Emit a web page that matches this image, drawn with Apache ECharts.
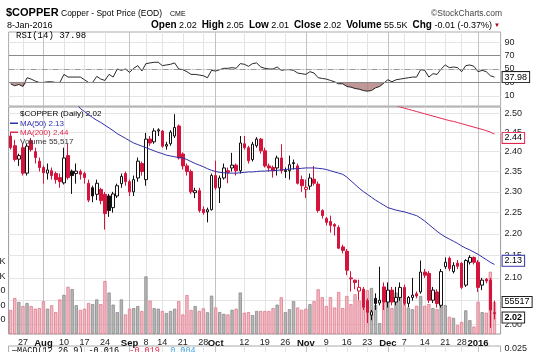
<!DOCTYPE html>
<html><head><meta charset="utf-8">
<script src="https://cdn.jsdelivr.net/npm/echarts@6/dist/echarts.min.js"></script>
<style>html,body{margin:0;padding:0;background:#fff}#c{width:550px;height:352px}</style>
</head><body><div id="c"></div>
<script>
// ---------- data ----------
const dates = ['2015-07-22','2015-07-23','2015-07-24','2015-07-27','2015-07-28','2015-07-29','2015-07-30','2015-07-31',
'2015-08-03','2015-08-04','2015-08-05','2015-08-06','2015-08-07','2015-08-10','2015-08-11','2015-08-12','2015-08-13','2015-08-14','2015-08-17','2015-08-18','2015-08-19','2015-08-20','2015-08-21','2015-08-24','2015-08-25','2015-08-26','2015-08-27','2015-08-28','2015-08-31',
'2015-09-01','2015-09-02','2015-09-03','2015-09-04','2015-09-08','2015-09-09','2015-09-10','2015-09-11','2015-09-14','2015-09-15','2015-09-16','2015-09-17','2015-09-18','2015-09-21','2015-09-22','2015-09-23','2015-09-24','2015-09-25','2015-09-28','2015-09-29','2015-09-30',
'2015-10-01','2015-10-02','2015-10-05','2015-10-06','2015-10-07','2015-10-08','2015-10-09','2015-10-12','2015-10-13','2015-10-14','2015-10-15','2015-10-16','2015-10-19','2015-10-20','2015-10-21','2015-10-22','2015-10-23','2015-10-26','2015-10-27','2015-10-28','2015-10-29','2015-10-30',
'2015-11-02','2015-11-03','2015-11-04','2015-11-05','2015-11-06','2015-11-09','2015-11-10','2015-11-11','2015-11-12','2015-11-13','2015-11-16','2015-11-17','2015-11-18','2015-11-19','2015-11-20','2015-11-23','2015-11-24','2015-11-25','2015-11-27','2015-11-30',
'2015-12-01','2015-12-02','2015-12-03','2015-12-04','2015-12-07','2015-12-08','2015-12-09','2015-12-10','2015-12-11','2015-12-14','2015-12-15','2015-12-16','2015-12-17','2015-12-18','2015-12-21','2015-12-22','2015-12-23','2015-12-24','2015-12-28','2015-12-29','2015-12-30','2015-12-31',
'2016-01-04','2016-01-05','2016-01-06','2016-01-07','2016-01-08'];

const open = [2.440,2.415,2.381,2.410,2.346,2.428,2.400,2.376,2.360,2.346,
2.352,2.345,2.335,2.322,2.390,2.351,2.345,2.350,2.345,2.321,
2.310,2.294,2.306,2.294,2.290,2.262,2.290,2.320,2.345,2.325,
2.300,2.334,2.370,2.330,2.432,2.425,2.453,2.453,2.414,2.420,
2.440,2.466,2.394,2.364,2.350,2.298,2.303,2.258,2.252,2.257,
2.340,2.310,2.334,2.352,2.359,2.366,2.352,2.420,2.410,2.380,
2.415,2.432,2.402,2.364,2.360,2.359,2.384,2.350,2.352,2.372,
2.364,2.330,2.306,2.314,2.331,2.319,2.255,2.236,2.229,2.222,
2.215,2.170,2.160,2.100,2.095,2.071,2.075,2.050,2.019,2.055,
2.045,2.080,2.047,2.073,2.047,2.057,2.079,2.044,2.057,2.065,
2.069,2.113,2.110,2.051,2.069,2.040,2.125,2.144,2.114,2.133,
2.133,2.084,2.135,2.146,2.135,2.084,2.097,2.095,2.024];
const high = [2.448,2.430,2.395,2.420,2.420,2.435,2.410,2.385,2.365,2.370,
2.360,2.350,2.345,2.410,2.420,2.355,2.370,2.355,2.350,2.330,
2.315,2.330,2.310,2.300,2.295,2.300,2.320,2.345,2.350,2.330,
2.340,2.385,2.375,2.448,2.440,2.460,2.460,2.455,2.425,2.455,
2.497,2.470,2.398,2.370,2.355,2.310,2.310,2.265,2.262,2.345,
2.377,2.340,2.370,2.360,2.397,2.370,2.440,2.440,2.415,2.425,
2.437,2.435,2.410,2.370,2.365,2.390,2.419,2.360,2.390,2.380,
2.370,2.340,2.330,2.345,2.364,2.325,2.258,2.240,2.243,2.225,
2.220,2.175,2.165,2.115,2.096,2.096,2.080,2.055,2.030,2.066,
2.125,2.090,2.090,2.080,2.080,2.090,2.085,2.060,2.100,2.070,
2.139,2.120,2.115,2.080,2.075,2.120,2.146,2.148,2.135,2.140,
2.135,2.142,2.151,2.148,2.140,2.100,2.100,2.100,2.050];
const low = [2.405,2.375,2.364,2.340,2.340,2.400,2.370,2.350,2.320,2.330,
2.330,2.320,2.310,2.318,2.330,2.295,2.320,2.330,2.320,2.275,
2.275,2.280,2.270,2.210,2.240,2.250,2.285,2.310,2.315,2.290,
2.290,2.325,2.340,2.315,2.415,2.420,2.440,2.410,2.405,2.415,
2.435,2.380,2.355,2.340,2.295,2.285,2.250,2.245,2.227,2.255,
2.305,2.273,2.330,2.321,2.350,2.340,2.345,2.405,2.370,2.375,
2.410,2.395,2.360,2.350,2.335,2.340,2.345,2.334,2.330,2.355,
2.318,2.300,2.285,2.305,2.315,2.250,2.236,2.220,2.203,2.196,
2.165,2.155,2.106,2.070,2.075,2.051,2.030,2.002,2.008,2.030,
2.040,2.030,2.035,2.040,2.040,2.050,2.040,2.036,2.050,2.055,
2.065,2.100,2.045,2.045,2.035,2.035,2.120,2.115,2.110,2.120,
2.075,2.080,2.130,2.130,2.069,2.073,2.088,1.992,2.010];
const close = [2.410,2.380,2.390,2.346,2.414,2.405,2.385,2.360,2.347,2.354,
2.340,2.330,2.325,2.384,2.335,2.340,2.351,2.343,2.335,2.280,
2.290,2.321,2.279,2.248,2.255,2.295,2.315,2.338,2.325,2.300,
2.330,2.376,2.350,2.432,2.422,2.453,2.456,2.414,2.418,2.450,
2.462,2.384,2.364,2.350,2.300,2.303,2.255,2.250,2.257,2.340,
2.310,2.334,2.359,2.348,2.366,2.352,2.422,2.410,2.377,2.419,
2.432,2.402,2.364,2.359,2.352,2.384,2.352,2.353,2.367,2.370,
2.321,2.315,2.311,2.334,2.321,2.255,2.243,2.227,2.220,2.218,
2.167,2.162,2.117,2.098,2.090,2.079,2.036,2.025,2.026,2.044,
2.051,2.047,2.073,2.047,2.057,2.079,2.044,2.057,2.062,2.060,
2.113,2.106,2.051,2.073,2.044,2.114,2.135,2.121,2.128,2.126,
2.079,2.139,2.146,2.135,2.079,2.095,2.093,2.030,2.0225];
const volume = [41700,62500,55600,48600,53800,48600,44000,45000,57000,44000,
49800,38000,60000,68000,82000,78000,50000,41700,44000,53800,
52000,60000,52000,92000,72000,51000,38000,60000,34000,44000,
45000,48600,40000,100000,58000,45000,44000,40000,36500,40000,
44000,57000,34000,67700,41700,48600,40000,44600,37700,66500,
46000,38000,35000,34000,42000,44000,72000,37000,38000,33000,
40000,40000,40000,40000,45000,51000,63700,38000,43000,57000,
46000,42000,44000,52000,57000,77600,64000,48600,64000,46000,
73000,45000,66000,52000,69000,58000,74000,76000,80000,50000,
19000,55000,58000,45000,72000,70000,52000,46000,43000,49000,
66000,49000,52000,45000,43000,58000,50000,30000,28000,15600,
21000,41000,24000,13000,56000,38000,37000,108000,55517];
const ma50 = [null,null,null,null,null,null,null,null,null,null,null,null,null,null,null,null,
2.525,2.512,2.504,2.496,2.488,2.481,2.475,2.468,2.461,2.454,
2.446,2.440,2.434,2.428,2.422,2.418,2.414,2.410,2.406,2.402,
2.398,2.395,2.391,2.389,2.387,2.385,2.384,2.380,2.375,2.370,
2.366,2.362,2.357,2.353,2.350,2.348,2.347,2.346,2.346,2.346,
2.347,2.348,2.349,2.349,2.350,2.351,2.351,2.352,2.352,2.353,
2.354,2.355,2.356,2.357,2.357,2.358,2.359,2.359,2.359,2.358,
2.357,2.355,2.352,2.349,2.346,2.343,2.336,2.327,2.318,2.309,
2.301,2.294,2.287,2.280,2.274,2.268,2.262,2.259,2.256,2.254,
2.252,2.249,2.246,2.243,2.237,2.230,2.222,2.214,2.206,2.199,
2.193,2.188,2.183,2.178,2.172,2.167,2.163,2.158,2.153,2.147,
2.141,2.135,2.130];
const ma200 = [null,null,null,null,null,null,null,null,null,null,
null,null,null,null,null,null,null,null,null,null,
null,null,null,null,null,null,null,null,null,null,
null,null,null,null,null,null,null,null,null,null,
null,null,null,null,null,null,null,null,null,null,
null,null,null,null,null,null,null,null,null,null,
null,null,null,null,null,null,null,null,null,null,
null,null,null,null,null,null,null,null,null,null,
null,null,null,null,null,null,null,null,null,null,
null,null,null,null,
2.520,2.516,2.513,2.510,2.507,2.504,2.501,2.498,2.495,2.492,
2.489,2.486,2.483,2.480,2.478,2.475,2.472,2.469,2.466,2.463,
2.460,2.457,2.454,2.450,2.4449];
const rsi = [28,25,27,24,37,35,32,30,30,31,
31,30,30,42,38,38,38,38,34,30,
30,39,35,33,42,38,50,48,50,45,
51,55,47,58,59,60,60,55,56,57,
59,50,49,46,42,42,41,40,37,48,
47,49,51,51,52,51,58,57,54,58,
59,53,51,50,50,53,48,49,49,48,
44,43,42,46,44,37,36,35,33,31,
28,28,24,23,21,20,18,17,18,22,
24,29,34,31,34,35,36,37,38,38,
49,48,38,43,42,50,56,52,53,52,
46,55,56,54,46,48,46,40,37.98];

const tickDates = ['2015-07-27','2015-08-03','2015-08-10','2015-08-17','2015-08-24','2015-09-01','2015-09-08','2015-09-14','2015-09-21','2015-09-28','2015-10-01','2015-10-12','2015-10-19','2015-10-26','2015-11-02','2015-11-09','2015-11-16','2015-11-23','2015-12-01','2015-12-07','2015-12-14','2015-12-21','2015-12-28','2016-01-04'];
const tickLabels = ['27','Aug','10','17','24','Sep','8','14','21','28','Oct','12','19','26','Nov','9','16','23','Dec','7','14','21','28','2016'];
const monthDates = ['2015-08-03','2015-09-01','2015-10-01','2015-11-02','2015-12-01','2016-01-04'];
const priceTicks = [2.00,2.05,2.10,2.15,2.20,2.25,2.30,2.35,2.40,2.45,2.50];
const rsiTicks = [10,30,50,70,90];
const volumeTicks = [25000,50000,75000,100000,125000];
const macdTicks = [0.025];

// ---------- build ----------
const FONT = '"Liberation Sans", Arial, sans-serif';
const MONO = '"Liberation Mono", "DejaVu Sans Mono", monospace';
const ln = Math.log;
const N = dates.length, L = N - 1;
const labelOf = {}; tickDates.forEach((d, i) => labelOf[d] = tickLabels[i]);
const monthSet = new Set(monthDates);
const isTick = (i, v) => Object.prototype.hasOwnProperty.call(labelOf, v);
const isMonth = (i, v) => monthSet.has(v);
const RED = '#d4143c', BLACK = '#111';

const candleData = dates.map((d, i) => {
  const prev = i > 0 ? close[i - 1] : open[i];
  const col = close[i] < prev ? RED : BLACK;
  const fill = close[i] > open[i] ? '#ffffff' : col;
  return { value: [ln(open[i]), ln(close[i]), ln(low[i]), ln(high[i])],
    itemStyle: { color: fill, color0: fill, borderColor: col, borderColor0: col } };
});
const volData = volume.map((v, i) => {
  const prev = i > 0 ? close[i - 1] : open[i];
  const down = close[i] < prev;
  return { value: v, itemStyle: down
    ? { color: 'rgba(238,170,180,0.8)', borderColor: '#e07a8e', borderWidth: 0.8 }
    : { color: 'rgba(165,165,165,0.8)', borderColor: '#8a8a8a', borderWidth: 0.8 } };
});
const rsiBase = rsi.map(v => Math.min(v, 30));
const rsiGap = rsi.map(v => 30 - Math.min(v, 30));

function tag(text, border, bold) {
  return { show: true, position: 'end', distance: 2, formatter: text,
    backgroundColor: '#fff', borderColor: border, borderWidth: 1, padding: [1, 2, 0, 2],
    color: '#000', fontSize: 9, fontFamily: FONT, fontWeight: bold ? 'bold' : 'normal' };
}
const hiddenLine = { color: 'rgba(0,0,0,0)', width: 0 };

const GL = 8.6, GW = 492;
function catAxis(grid, opts) {
  return Object.assign({
    type: 'category', gridIndex: grid, data: dates, boundaryGap: true, max: N,
    axisLine: { show: false }, axisTick: { show: false }, axisLabel: { show: false },
    splitLine: { show: true, interval: isTick, alignWithLabel: true, lineStyle: { color: '#e4e4e4', width: 1 } }
  }, opts || {});
}
function monthAxis(grid) {
  return catAxis(grid, { splitLine: { show: true, interval: isMonth, alignWithLabel: true, lineStyle: { color: '#c2c2c2', width: 1 } } });
}
const axLabel = { fontSize: 9, fontFamily: FONT, color: '#222', margin: 4 };

const option = {
  animation: false,
  backgroundColor: '#fff',
  grid: [
    { left: GL, top: 32, width: GW, height: 74, show: true, borderColor: '#aaa', borderWidth: 1, containLabel: false, outerBoundsMode: 'none' },
    { left: GL, top: 107, width: GW, height: 227, show: true, borderColor: '#999', borderWidth: 1, containLabel: false, outerBoundsMode: 'none' },
    { left: GL, top: 346, width: GW, height: 40, show: true, borderColor: '#aaa', borderWidth: 1, containLabel: false, outerBoundsMode: 'none' }
  ],
  xAxis: [
    catAxis(0), monthAxis(0),
    catAxis(1, { axisLabel: { show: true, interval: isTick, fontSize: 9, fontFamily: FONT, color: '#222', margin: 4,
      formatter: v => monthSet.has(v) ? '{b|' + labelOf[v] + '}' : labelOf[v],
      rich: { b: { fontWeight: 'bold', fontSize: 9.5, fontFamily: FONT, color: '#111' } } } }),
    monthAxis(1),
    catAxis(2), monthAxis(2)
  ],
  yAxis: [
    { type: 'value', gridIndex: 0, position: 'right', min: -5, max: 105,
      axisLine: { show: false }, axisTick: { show: false, customValues: rsiTicks },
      axisLabel: Object.assign({ customValues: rsiTicks }, axLabel),
      splitLine: { show: true, customValues: rsiTicks, lineStyle: { color: '#e4e4e4' } } },
    { type: 'value', gridIndex: 1, position: 'right', min: ln(1.979), max: ln(2.516),
      axisLine: { show: false }, axisTick: { show: false, customValues: priceTicks.map(ln) },
      axisLabel: Object.assign({ customValues: priceTicks.map(ln), formatter: v => Math.exp(v).toFixed(2) }, axLabel),
      splitLine: { show: true, customValues: priceTicks.map(ln), lineStyle: { color: '#e4e4e4' } } },
    { type: 'value', gridIndex: 1, position: 'left', min: 0, max: 394000,
      axisLine: { show: false }, axisTick: { show: false, customValues: volumeTicks },
      axisLabel: Object.assign({ customValues: volumeTicks,
        formatter: v => v >= 100000 ? (v / 1000) + 'K' : String(v) }, axLabel, { margin: 3 }),
      splitLine: { show: false } },
    { type: 'value', gridIndex: 2, position: 'right', min: -0.05, max: 0.03,
      axisLine: { show: false }, axisTick: { show: false, customValues: macdTicks },
      axisLabel: Object.assign({ customValues: macdTicks, formatter: v => v.toFixed(3) }, axLabel),
      splitLine: { show: false } }
  ],
  series: [
    { name: 'rsiBase', type: 'line', xAxisIndex: 0, yAxisIndex: 0, stack: 'rsifill', data: rsiBase,
      symbol: 'none', lineStyle: { width: 0 }, silent: true, z: 2 },
    { name: 'rsiFill', type: 'line', xAxisIndex: 0, yAxisIndex: 0, stack: 'rsifill', data: rsiGap,
      symbol: 'none', lineStyle: { width: 0 }, areaStyle: { color: 'rgba(150,80,80,0.85)' }, silent: true, z: 2 },
    { name: 'RSI(14)', type: 'line', xAxisIndex: 0, yAxisIndex: 0, data: rsi, symbol: 'none',
      lineStyle: { color: '#111', width: 0.9 }, z: 4,
      markLine: { silent: true, symbol: ['none', 'none'], animation: false,
        data: [
          { yAxis: 70, lineStyle: { color: '#8a8a8a', width: 1, type: 'solid' }, label: { show: false } },
          { yAxis: 30, lineStyle: { color: '#8a8a8a', width: 1, type: 'solid' }, label: { show: false } },
          { yAxis: 50, lineStyle: { color: '#999', width: 1, type: [6, 2, 1, 2] }, label: { show: false } },
          { yAxis: rsi[L], lineStyle: hiddenLine, label: tag(rsi[L].toFixed(2), '#222', false) }
        ] } },
    { name: 'Volume', type: 'bar', xAxisIndex: 2, yAxisIndex: 2, data: volData, barWidth: 3.3, z: 1,
      markLine: { silent: true, symbol: ['none', 'none'], animation: false,
        data: [{ yAxis: volume[L], lineStyle: hiddenLine, label: tag(String(volume[L]), '#222', false) }] } },
    { name: '$COPPER', type: 'candlestick', xAxisIndex: 2, yAxisIndex: 1, data: candleData, barWidth: 3, z: 3,
      markLine: { silent: true, symbol: ['none', 'none'], animation: false,
        data: [{ yAxis: ln(close[L]), lineStyle: hiddenLine, label: tag(close[L].toFixed(2), '#222', true) }] } },
    { name: 'MA(50)', type: 'line', xAxisIndex: 2, yAxisIndex: 1, data: ma50.map(v => v == null ? null : ln(v)),
      symbol: 'none', lineStyle: { color: '#2f2fa8', width: 1 }, z: 4,
      markLine: { silent: true, symbol: ['none', 'none'], animation: false,
        data: [{ yAxis: ln(ma50[L]), lineStyle: hiddenLine, label: tag(ma50[L].toFixed(2), '#2f2fa8', false) }] } },
    { name: 'MA(200)', type: 'line', xAxisIndex: 2, yAxisIndex: 1, data: ma200.map(v => v == null ? null : ln(v)),
      symbol: 'none', lineStyle: { color: '#e0284e', width: 1 }, z: 4,
      markLine: { silent: true, symbol: ['none', 'none'], animation: false,
        data: [{ yAxis: ln(ma200[L]), lineStyle: hiddenLine, label: tag(ma200[L].toFixed(2), '#e0284e', false) }] } }
  ],
  graphic: [
    { type: 'text', x: 6, y: 13, z: 10, style: { text: '$COPPER', font: 'bold 11px ' + FONT, fill: '#000', textVerticalAlign: 'middle' } },
    { type: 'text', x: 61, y: 14, z: 10, style: { text: 'Copper - Spot Price (EOD)', font: '8.5px ' + FONT, fill: '#000', textVerticalAlign: 'middle' } },
    { type: 'text', x: 170, y: 14.5, z: 10, style: { text: 'CME', font: '7px ' + FONT, fill: '#000', textVerticalAlign: 'middle' } },
    { type: 'text', x: 502, y: 14, z: 10, style: { text: '\u00a9StockCharts.com', font: '8.5px ' + FONT, fill: '#444', textAlign: 'right', textVerticalAlign: 'middle' } },
    { type: 'text', x: 7, y: 25.5, z: 10, style: { text: '8-Jan-2016', font: '9px ' + FONT, fill: '#000', textVerticalAlign: 'middle' } },
    { type: 'text', x: 492, y: 25.5, z: 10, style: {
      text: '{b|Open} 2.02  {b|High} 2.05  {b|Low} 2.01  {b|Close} 2.02  {b|Volume} 55.5K  {b|Chg} -0.01 (-0.37%)',
      font: '9px ' + FONT, fill: '#000', textAlign: 'right', textVerticalAlign: 'middle',
      rich: { b: { fontWeight: 'bold', fontSize: 10, fontFamily: FONT, fill: '#000' } } } },
    { type: 'text', x: 494, y: 25, z: 10, style: { text: '\u25BC', font: '6px ' + FONT, fill: '#b00020', textVerticalAlign: 'middle' } },
    { type: 'text', x: 16, y: 36, z: 10, style: { text: 'RSI(14) 37.98', font: '9px ' + MONO, fill: '#000', textVerticalAlign: 'middle' } },
    { type: 'text', x: 20, y: 114, z: 10, style: { text: '$COPPER (Daily) 2.02', font: '8px ' + FONT, fill: '#000', textVerticalAlign: 'middle' } },
    { type: 'rect', z: 10, shape: { x: 10, y: 122.5, width: 8, height: 1.5 }, style: { fill: '#2f2fa8' } },
    { type: 'text', x: 20, y: 123.5, z: 10, style: { text: 'MA(50) 2.13', font: '8px ' + FONT, fill: '#2f2fa8', textVerticalAlign: 'middle' } },
    { type: 'rect', z: 10, shape: { x: 10, y: 131.5, width: 8, height: 1.5 }, style: { fill: '#e0284e' } },
    { type: 'text', x: 20, y: 132.5, z: 10, style: { text: 'MA(200) 2.44', font: '8px ' + FONT, fill: '#e0284e', textVerticalAlign: 'middle' } },
    { type: 'text', x: 20, y: 141.5, z: 10, style: { text: 'Volume 55,517', font: '8px ' + FONT, fill: '#333', textVerticalAlign: 'middle' } },
    { type: 'text', x: 12, y: 350.5, z: 10, style: {
      text: '\u2014MACD(12,26,9) -0.016, {r|-0.019,} {c|0.004}', font: '8.5px ' + MONO, fill: '#000', textVerticalAlign: 'middle',
      rich: { r: { fill: '#e0284e', fontSize: 8.5, fontFamily: MONO }, c: { fill: '#4aa8e0', fontSize: 8.5, fontFamily: MONO } } } }
  ]
};
const chart = echarts.init(document.getElementById('c'), null, { renderer: 'canvas' });
chart.setOption(option);
</script></body></html>
